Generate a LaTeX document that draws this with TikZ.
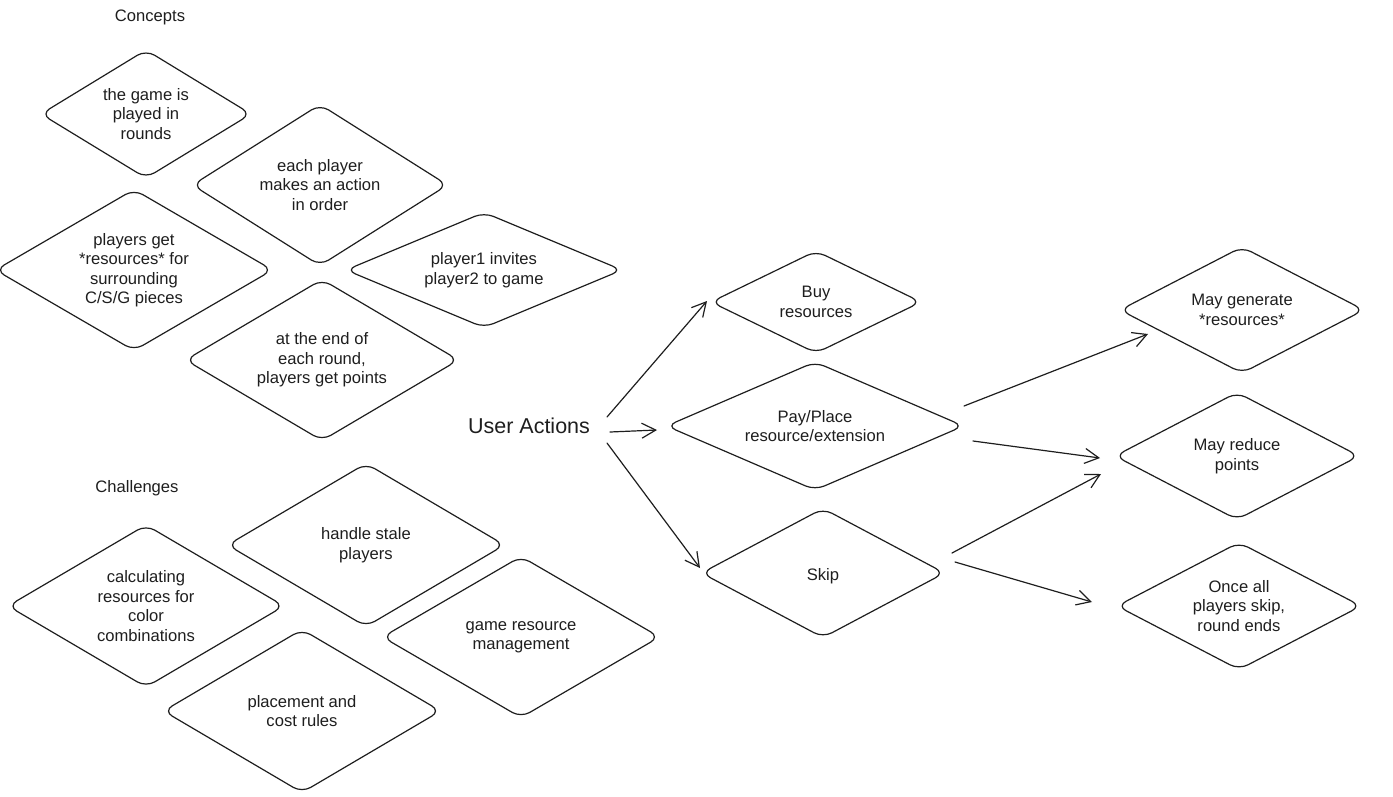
\documentclass[tikz,border=0pt]{standalone}
\usepackage{fontspec}
\setmainfont{Liberation Sans}
\usetikzlibrary{shapes.geometric,arrows.meta,calc}
\definecolor{ink}{HTML}{1E1E1E}
\begin{document}
\begin{tikzpicture}[x=1pt,y=-1pt,
  txt/.style={font=\fontsize{16.6}{19.5}\selectfont, text=ink, align=center, inner sep=0pt},
  dia/.style={diamond, draw=ink, line width=1.2pt, rounded corners=10pt, inner sep=-80pt, outer sep=0pt,
    font=\fontsize{16.6}{19.5}\selectfont, text=ink, align=center,
    execute at begin node={\rule{0pt}{17.5pt}}},
  arr/.style={draw=ink, line width=1.2pt, line cap=round, -{Straight Barb[length=14pt,width=15pt,line width=1.2pt]}}]
\useasboundingbox (0,0) rectangle (1393,796);

% section labels
\node[txt] (concepts) at (150,17) {Concepts};
\node[txt] (challenges) at (137,488) {Challenges};
\node[txt, font=\fontsize{21.5}{25}\selectfont] (ua) at (529,426) {User Actions};

% concepts
\node[dia, minimum width=210pt, minimum height=128pt] (d1) at (146,114) {the game is\\played in\\rounds};
\node[dia, minimum width=255pt, minimum height=161pt] (d2) at (320,185) {each player\\makes an action\\in order};
\node[dia, minimum width=277pt, minimum height=161pt] (d3) at (134,270) {players get\\*resources* for\\surrounding\\C/S/G pieces};
\node[dia, minimum width=276pt, minimum height=115pt] (d4) at (484,270) {player1 invites\\player2 to game};
\node[dia, minimum width=273pt, minimum height=161pt] (d5) at (322,360) {at the end of\\each round,\\players get points};

% challenges
\node[dia, minimum width=276pt, minimum height=162pt] (c1) at (146,606) {calculating\\resources for\\color\\combinations};
\node[dia, minimum width=277pt, minimum height=163pt] (c2) at (366,545) {handle stale\\players};
\node[dia, minimum width=277pt, minimum height=163pt] (c3) at (302,711) {placement and\\cost rules};
\node[dia, minimum width=277pt, minimum height=161pt] (c4) at (521,637) {game resource\\management};

% actions
\node[dia, minimum width=210pt, minimum height=102pt] (buy) at (816,302) {Buy\\resources};
\node[dia, minimum width=297pt, minimum height=128pt] (pay) at (815,426) {Pay/Place\\resource/extension};
\node[dia, minimum width=243pt, minimum height=129pt] (skip) at (823,573) {Skip};

% results
\node[dia, minimum width=244pt, minimum height=126pt] (gen) at (1242,310) {May generate\\*resources*};
\node[dia, minimum width=244pt, minimum height=127pt] (red) at (1237,456) {May reduce\\points};
\node[dia, minimum width=244pt, minimum height=127pt] (once) at (1239,606) {Once all\\players skip,\\round ends};

% connectors
\draw[arr] ($(ua)+(78,-9)$) -- ($(buy)+(-109,-1)$);
\draw[arr] ($(ua)+(81,6)$) -- ($(pay)+(-158,4)$);
\draw[arr] ($(ua)+(78,17)$) -- ($(skip)+(-123,-5)$);
\draw[arr] ($(pay)+(149,-20)$) -- ($(gen)+(-94,24)$);
\draw[arr] ($(pay)+(158,15)$) -- ($(red)+(-137,2)$);
\draw[arr] ($(skip)+(129,-20)$) -- ($(red)+(-136,18)$);
\draw[arr] ($(skip)+(132,-11)$) -- ($(once)+(-147,-4)$);
\end{tikzpicture}
\end{document}
